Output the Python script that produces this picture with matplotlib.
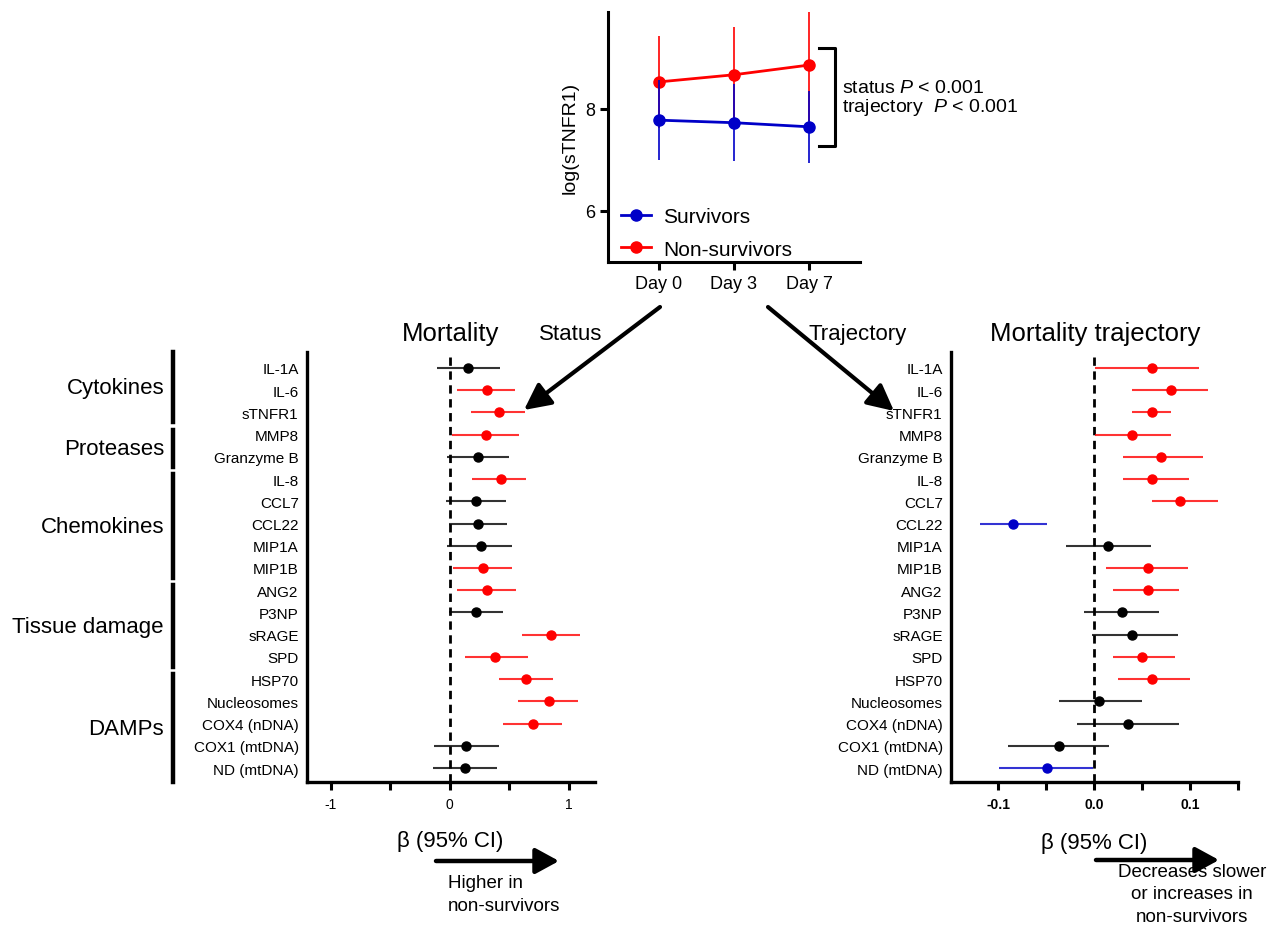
import numpy as np
import matplotlib
matplotlib.use("Agg")
import matplotlib.pyplot as plt
import matplotlib.transforms as mtrans
from matplotlib.lines import Line2D
from matplotlib.patches import FancyArrowPatch

plt.rcParams['font.family'] = ['Liberation Sans', 'DejaVu Sans']
plt.rcParams['mathtext.fontset'] = 'custom'
plt.rcParams['mathtext.rm'] = 'Liberation Sans'
plt.rcParams['mathtext.it'] = 'Liberation Sans:italic'

# top panel: log(sTNFR1) over time
days = ['Day 0', 'Day 3', 'Day 7']
surv_mean = [7.78, 7.73, 7.65]
surv_sd = [0.78, 0.75, 0.70]
nonsurv_mean = [8.53, 8.67, 8.86]
nonsurv_sd = [0.90, 0.93, 1.10]

# forest plots
markers = ['IL-1A', 'IL-6', 'sTNFR1', 'MMP8', 'Granzyme B', 'IL-8', 'CCL7', 'CCL22',
           'MIP1A', 'MIP1B', 'ANG2', 'P3NP', 'sRAGE', 'SPD', 'HSP70', 'Nucleosomes',
           'COX4 (nDNA)', 'COX1 (mtDNA)', 'ND (mtDNA)']
groups = ['Cytokines', 'Proteases', 'Chemokines', 'Tissue damage', 'DAMPs']
group_sizes = [3, 2, 5, 4, 5]

status_beta = [0.15, 0.31, 0.41, 0.30, 0.24, 0.43, 0.22, 0.24, 0.26, 0.28,
               0.31, 0.22, 0.85, 0.38, 0.64, 0.83, 0.70, 0.14, 0.13]
status_lo = [-0.11, 0.06, 0.18, 0.02, -0.02, 0.19, -0.03, -0.005, -0.02, 0.03,
             0.06, -0.01, 0.61, 0.13, 0.41, 0.57, 0.45, -0.13, -0.14]
status_hi = [0.42, 0.55, 0.63, 0.58, 0.50, 0.64, 0.47, 0.48, 0.52, 0.52,
             0.56, 0.45, 1.09, 0.66, 0.87, 1.08, 0.94, 0.41, 0.40]

traj_beta = [0.060, 0.080, 0.060, 0.040, 0.070, 0.060, 0.090, -0.084, 0.015, 0.056,
             0.056, 0.029, 0.040, 0.050, 0.060, 0.005, 0.035, -0.037, -0.049]
traj_lo = [0.001, 0.040, 0.040, 0.001, 0.030, 0.030, 0.060, -0.119, -0.029, 0.013,
           0.020, -0.010, -0.002, 0.020, 0.025, -0.037, -0.018, -0.090, -0.099]
traj_hi = [0.109, 0.119, 0.080, 0.080, 0.114, 0.099, 0.129, -0.049, 0.059, 0.098,
           0.089, 0.068, 0.088, 0.084, 0.100, 0.050, 0.089, 0.016, -0.001]

RED = '#ff0000'
BLUE = '#0000c8'
W, H = 1275, 928


def fx(px):
    return px / W


def fy(py):
    return 1 - py / H


fig = plt.figure(figsize=(12.75, 9.28), dpi=100)

# ---- top panel ----
ax0 = fig.add_axes([fx(608), fy(263), 252 / W, 250 / H])
x = np.arange(len(days))
ax0.errorbar(x, nonsurv_mean, yerr=nonsurv_sd, color=RED, lw=2, elinewidth=1.2,
             marker='o', ms=8, zorder=2)
ax0.errorbar(x, surv_mean, yerr=surv_sd, color=BLUE, lw=2, elinewidth=1.2,
             marker='o', ms=8, zorder=3)
ax0.set_xlim(-0.68, 2.68)
ax0.set_ylim(5, 9.9)
ax0.set_yticks([6, 8])
ax0.set_xticks(x)
ax0.set_xticklabels(days)
ax0.set_ylabel('log(sTNFR1)', fontsize=14)
for s in ['top', 'right']:
    ax0.spines[s].set_visible(False)
for s in ['left', 'bottom']:
    ax0.spines[s].set_linewidth(2.2)
ax0.tick_params(width=2.2, length=6, labelsize=13)
handles = [Line2D([], [], color=BLUE, lw=2, marker='o', ms=8),
           Line2D([], [], color=RED, lw=2, marker='o', ms=8)]
ax0.legend(handles, ['Survivors', 'Non-survivors'], loc='lower left',
           bbox_to_anchor=(0.02, -0.02), frameon=False, fontsize=15, handlelength=1.4,
           handletextpad=0.6, borderaxespad=0.0, labelspacing=0.65)
# bracket + p values
ax0.plot([2.13, 2.35, 2.35, 2.13], [9.2, 9.2, 7.27, 7.27], color='k', lw=2.2, clip_on=False)
ax0.text(2.44, 8.43, 'status $P$ < 0.001', fontsize=14, va='center', ha='left')
ax0.text(2.44, 8.04, 'trajectory  $P$ < 0.001', fontsize=14, va='center', ha='left')


# ---- forest plots ----
def forest(ax, beta, lo, hi, xlim, ticks, ticklabels, bold):
    y = np.arange(len(markers))
    ax.axvline(0, color='k', lw=2, ls=(0, (3, 2)), zorder=1)
    for i in y:
        if lo[i] > 0:
            c = RED
        elif hi[i] < 0:
            c = BLUE
        else:
            c = 'k'
        ax.plot([lo[i], hi[i]], [i, i], color=c, lw=1.5, alpha=0.8, solid_capstyle='butt', zorder=2)
        ax.plot(beta[i], i, 'o', color=c, ms=6.5, zorder=3)
    ax.set_xlim(*xlim)
    ax.set_ylim(len(markers) - 0.37, -0.72)
    ax.set_yticks(y)
    ax.set_yticklabels(markers, fontsize=11)
    ax.set_xticks(ticks)
    ax.set_xticklabels(ticklabels, fontsize=10, fontweight='bold' if bold else 'normal')
    ax.tick_params(axis='y', length=0, pad=6)
    ax.tick_params(axis='x', length=6, width=2.2, pad=5)
    for s in ['top', 'right']:
        ax.spines[s].set_visible(False)
    for s in ['left', 'bottom']:
        ax.spines[s].set_linewidth(2.4)


ax1 = fig.add_axes([fx(307), fy(783), 288 / W, 430 / H])
forest(ax1, status_beta, status_lo, status_hi, (-1.2, 1.22),
       [-1, -0.5, 0, 0.5, 1], ['-1', '', '0', '', '1'], False)

ax2 = fig.add_axes([fx(951), fy(783), 287 / W, 430 / H])
forest(ax2, traj_beta, traj_lo, traj_hi, (-0.149, 0.15),
       [-0.1, -0.05, 0, 0.05, 0.1, 0.15], ['-0.1', '', '0.0', '', '0.1', ''], True)

# group brackets on the left
tr = mtrans.blended_transform_factory(fig.transFigure, ax1.transData)
start = 0
ylo, yhi = ax1.get_ylim()
for name, n in zip(groups, group_sizes):
    end = start + n - 1
    top = start - 0.22 if start > 0 else yhi
    bot = end + 0.45 if end < len(markers) - 1 else ylo
    ax1.plot([fx(173), fx(173)], [top, bot], color='k', lw=3.2, transform=tr, clip_on=False)
    ax1.text(fx(164), (top + bot) / 2, name, transform=tr, fontsize=16, ha='right', va='center')
    start += n

# titles
fig.text(fx(451), fy(334), 'Mortality', fontsize=18.5, ha='center', va='center')
fig.text(fx(571), fy(335), 'Status', fontsize=16, ha='center', va='center')
fig.text(fx(858), fy(335), 'Trajectory', fontsize=16, ha='center', va='center')
fig.text(fx(1095), fy(334), 'Mortality trajectory', fontsize=18.5, ha='center', va='center')

# arrows from the top panel
arw = dict(arrowstyle='-|>,head_length=0.5,head_width=0.25', lw=3, color='k',
           mutation_scale=32, shrinkA=0, shrinkB=0)
fig.add_artist(FancyArrowPatch((fx(660), fy(308)), (fx(524), fy(411)),
                               transform=fig.transFigure, **arw))
fig.add_artist(FancyArrowPatch((fx(768), fy(308)), (fx(894), fy(412)),
                               transform=fig.transFigure, **arw))

# x labels and direction arrows
fig.text(fx(450), fy(842), 'β (95% CI)', fontsize=16, ha='center', va='center')
fig.text(fx(1094), fy(843), 'β (95% CI)', fontsize=16, ha='center', va='center')
arw2 = dict(arrowstyle='-|>,head_length=0.55,head_width=0.3', lw=3.2, color='k',
            mutation_scale=26, shrinkA=0, shrinkB=0)
fig.add_artist(FancyArrowPatch((fx(436), fy(862)), (fx(559), fy(862)),
                               transform=fig.transFigure, **arw2))
fig.add_artist(FancyArrowPatch((fx(1096), fy(861)), (fx(1219), fy(861)),
                               transform=fig.transFigure, **arw2))
fig.text(fx(448), fy(895), 'Higher in\nnon-survivors', fontsize=13.5, ha='left', va='center',
         linespacing=1.45)
fig.text(fx(1192), fy(895), 'Decreases slower\nor increases in\nnon-survivors', fontsize=13.5,
         ha='center', va='center', linespacing=1.45)

fig.savefig('out.png', dpi=100)
